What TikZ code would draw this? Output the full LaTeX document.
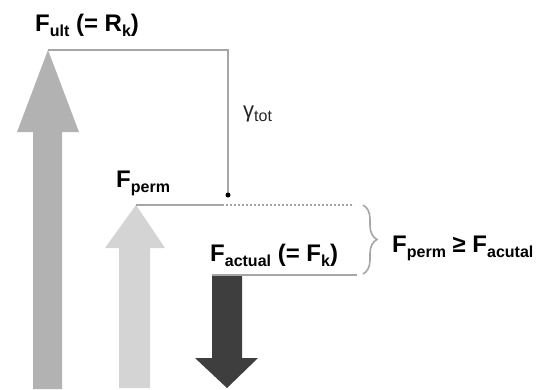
\documentclass[tikz,border=0pt]{standalone}
\usepackage{fontspec}
\setmainfont{Liberation Sans}
\usetikzlibrary{decorations.pathreplacing}

\definecolor{ultgray}{HTML}{B2B2B2}
\definecolor{permgray}{HTML}{D4D4D4}
\definecolor{actgray}{HTML}{3E3E3E}
\definecolor{linegray}{HTML}{A6A6A6}
\newcommand{\dn}[1]{\raisebox{-.22em}{\fontsize{16}{16}\selectfont #1}}

\begin{document}
\begin{tikzpicture}[
  x=1pt,y=-1pt,
  guide/.style={draw=linegray,line width=2pt},
  forcelabel/.style={anchor=base west,inner sep=0pt,font=\fontsize{24}{28}\selectfont\bfseries}
]
  \useasboundingbox (0,0) rectangle (552,389);

  % force arrows
  \fill[ultgray] (33,389) -- (33,132) -- (17,132) -- (48,50) -- (79,132) -- (62,132) -- (62,389) -- cycle;
  \fill[permgray] (119,388) -- (119,248) -- (105,248) -- (136,205) -- (165,248) -- (150,248) -- (150,388) -- cycle;
  \fill[actgray] (212,275) -- (242,275) -- (242,358) -- (258,358) -- (227,388) -- (195,358) -- (212,358) -- cycle;

  \coordinate (ulttip) at (48,50);
  \coordinate (corner) at (228,50);
  \coordinate (gapdot) at (228,195);
  \coordinate (permtip) at (136,205);
  \coordinate (permmid) at (222,205);
  \coordinate (permend) at (354,205);
  \coordinate (acttop) at (212,275);
  \coordinate (actend) at (357,275);

  \draw[guide] (ulttip) -- (corner) -- (gapdot);
  \fill (gapdot) circle (2.5);
  \draw[guide] (permtip) -- (permmid);
  \draw[guide,dotted] (permmid) -- (permend);
  \draw[guide] (acttop) -- (actend);
  \draw[guide,line width=1.6pt,decorate,decoration={brace,amplitude=14pt}]
    (363,205) -- (363,274);

  % labels
  \node[forcelabel] (ult) at (35,31) {F\dn{ult} (= R\dn{k})};
  \node[anchor=base west,inner sep=0pt,text=black!85,font=\fontsize{22}{22}\selectfont] (gamma) at (243,117) {γ\dn{tot}};
  \node[forcelabel] (perm) at (116,187) {F\dn{perm}};
  \node[forcelabel] (act) at (210,261) {F\dn{actual} (= F\dn{k})};
  \node[forcelabel] (cmp) at (392,252) {F\dn{perm} ≥ F\dn{acutal}};
\end{tikzpicture}
\end{document}
